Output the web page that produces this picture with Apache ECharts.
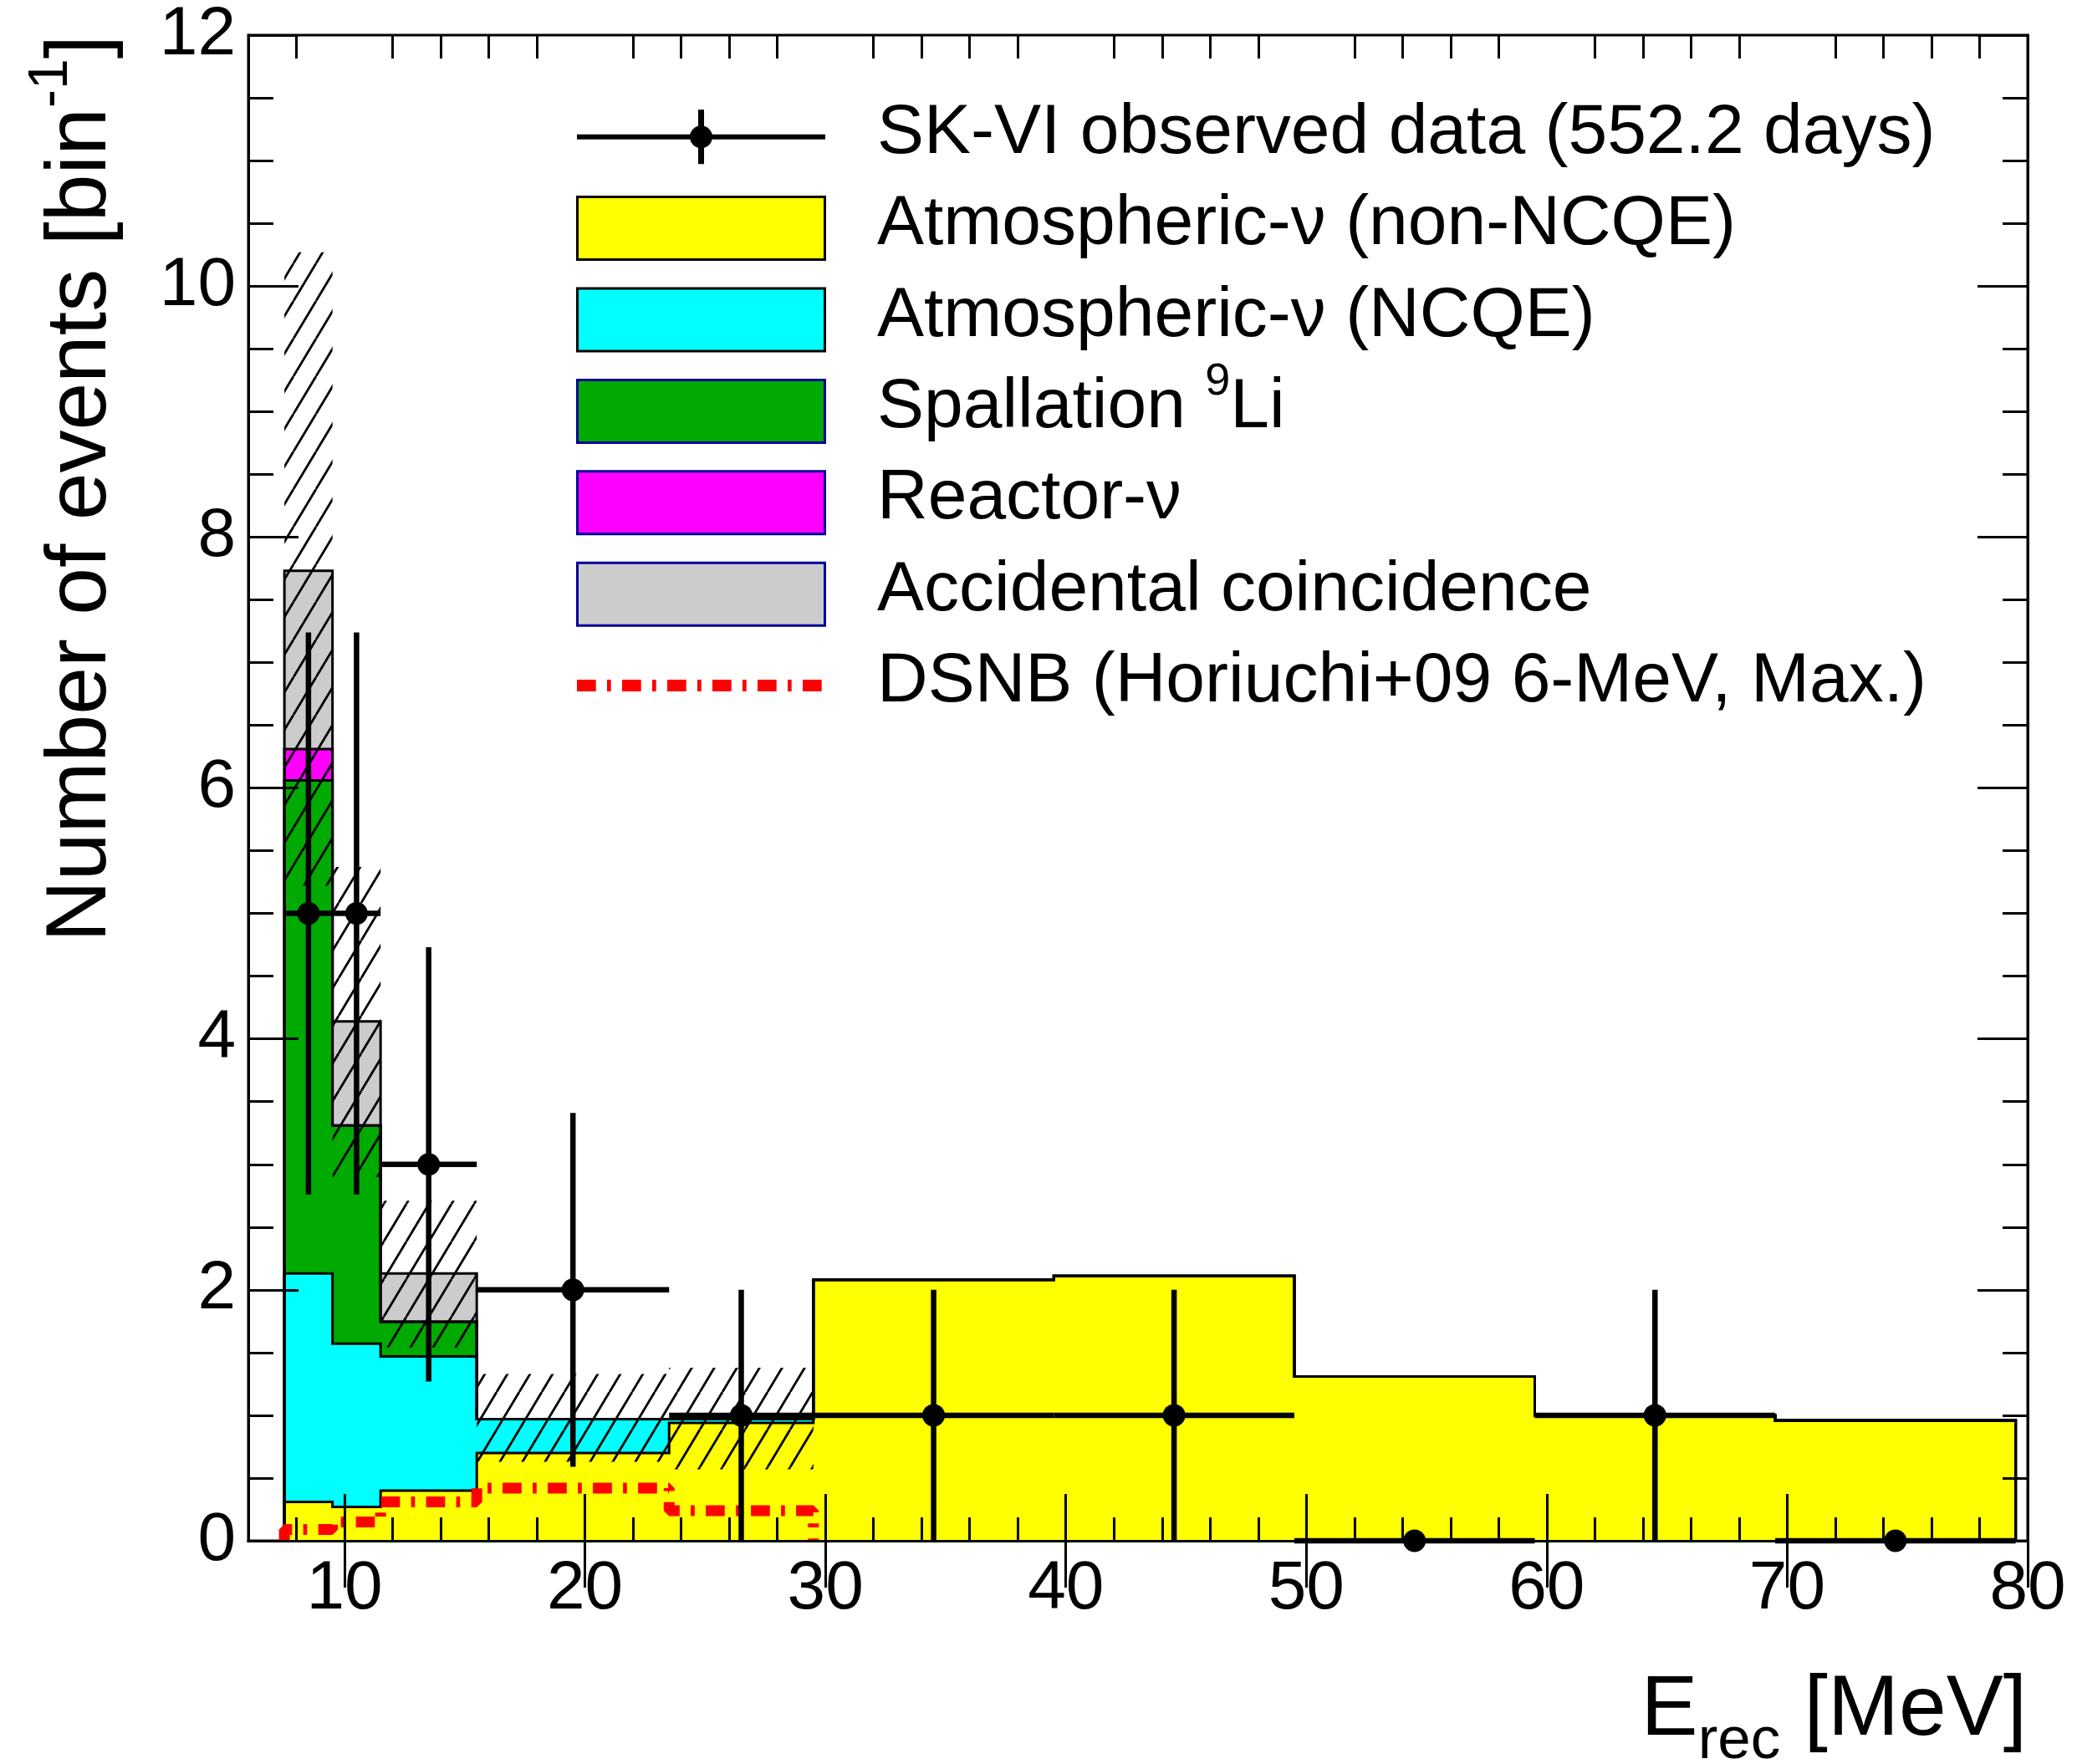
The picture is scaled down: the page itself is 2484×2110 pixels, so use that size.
<!DOCTYPE html>
<html><head><meta charset="utf-8">
<script src="https://cdn.jsdelivr.net/npm/echarts@6/dist/echarts.min.js"></script>
<style>html,body{margin:0;padding:0;background:#fff}#c{width:2484px;height:2110px}</style>
</head><body><div id="c"></div>
<script>
// ---------------- data ----------------
const binEdges      = [7.5, 9.5, 11.5, 15.5, 23.5, 29.5, 39.5, 49.5, 59.5, 69.5, 79.5];
const atmNonNCQE    = [0.31, 0.27, 0.40, 0.70, 0.94, 2.08, 2.11, 1.31, 1.00, 0.96];
const atmNCQE       = [1.82, 1.30, 1.07, 0.27, 0.03, 0, 0, 0, 0, 0];
const spallationLi9 = [3.93, 1.74, 0.275, 0, 0, 0, 0, 0, 0, 0];
const reactorNu     = [0.25, 0, 0, 0, 0, 0, 0, 0, 0, 0];
const accidental    = [1.42, 0.83, 0.385, 0, 0, 0, 0, 0, 0, 0];
const bkgErrLow     = [5.22, 2.90, 1.54, 0.63, 0.57];
const bkgErrHigh    = [10.27, 5.37, 2.71, 1.33, 1.38];
const dsnb          = [0.09, 0.15, 0.31, 0.42, 0.24];
const dataX         = [8.5, 10.5, 13.5, 19.5, 26.5, 34.5, 44.5, 54.5, 64.5, 74.5];
const dataXErr      = [1, 1, 2, 4, 3, 5, 5, 5, 5, 5];
const dataY         = [5, 5, 3, 2, 1, 1, 1, 0, 1, 0];
const dataYErr      = [2.24, 2.24, 1.73, 1.41, 1, 1, 1, 0, 1, 0];
const xMajorTicks   = [10, 20, 30, 40, 50, 60, 70, 80];
const xMinorTicks   = [8, 12, 14, 16, 18, 22, 24, 26, 28, 32, 34, 36, 38, 42, 44, 46, 48,
                       52, 54, 56, 58, 62, 64, 66, 68, 72, 74, 76, 78];
const names = {
  data: 'SK-VI observed data (552.2 days)',
  atmNon: 'Atmospheric-ν (non-NCQE)',
  atmNC: 'Atmospheric-ν (NCQE)',
  li9: 'Spallation ⁹Li',
  reactor: 'Reactor-ν',
  acc: 'Accidental coincidence',
  dsnb: 'DSNB (Horiuchi+09 6-MeV, Max.)'
};

// ---------------- helpers ----------------
const FONT = 'Liberation Sans';
const DASH = [22.7, 13.3, 4.7, 13.3];
function cumulative(list) {
  const out = []; let run = list[0].map(() => 0);
  list.forEach(arr => { run = run.map((v, i) => v + arr[i]); out.push(run.slice()); });
  return out;
}
const cum = cumulative([atmNonNCQE, atmNCQE, spallationLi9, reactorNu, accidental]);
function stepPoints(edges, vals) {
  const pts = [[edges[0], 0]];
  vals.forEach((v, i) => pts.push([edges[i], v]));
  pts.push([edges[vals.length], vals[vals.length - 1]]);
  pts.push([edges[vals.length], 0]);
  return pts;
}
function makeHatch() {
  const w = 27, h = 45;
  const c = document.createElement('canvas'); c.width = w; c.height = h;
  const ctx = c.getContext('2d');
  ctx.strokeStyle = '#000'; ctx.lineWidth = 2.8;
  for (let k = -1; k <= 1; k++) { ctx.beginPath(); ctx.moveTo(k * w, h); ctx.lineTo((k + 1) * w, 0); ctx.stroke(); }
  return c;
}
const hatch = { image: makeHatch(), repeat: 'repeat' };

// ---------------- series ----------------
function layer(name, vals, color) {
  return {
    type: 'line', name: name, step: 'end', data: stepPoints(binEdges, vals), z: 2,
    symbol: 'none', showSymbol: false, silent: true, emphasis: { disabled: true },
    lineStyle: { color: '#000', width: 3, join: 'miter' },
    itemStyle: { color: color },
    areaStyle: { color: color, opacity: 1 }
  };
}
const bandData = bkgErrLow.map((lo, i) => [binEdges[i], binEdges[i + 1], lo, bkgErrHigh[i]]);
const pointData = dataX.map((x, i) => [x, dataY[i], dataXErr[i], dataYErr[i]]);

const series = [
  layer(names.acc, cum[4], '#cccccc'),
  layer(names.reactor, cum[3], '#ff00ff'),
  layer(names.li9, cum[2], '#00aa00'),
  layer(names.atmNC, cum[1], '#00ffff'),
  layer(names.atmNon, cum[0], '#ffff00'),
  {
    type: 'custom', name: 'bkgErr', silent: true, data: bandData, z: 3,
    encode: { x: [0, 1], y: [2, 3] },
    renderItem: function (params, api) {
      const a = api.coord([api.value(0), api.value(2)]);
      const b = api.coord([api.value(1), api.value(3)]);
      return { type: 'rect', shape: { x: a[0], y: b[1], width: b[0] - a[0], height: a[1] - b[1] },
               style: { fill: hatch, stroke: null } };
    }
  },
  {
    type: 'line', name: names.dsnb, step: 'end', z: 4,
    data: stepPoints(binEdges.slice(0, dsnb.length + 1), dsnb),
    symbol: 'none', showSymbol: false, silent: true, emphasis: { disabled: true },
    itemStyle: { color: '#ff0000' },
    lineStyle: { color: '#ff0000', width: 13, type: DASH, cap: 'butt' }
  },
  {
    type: 'custom', name: names.data, silent: true, data: pointData, clip: false, z: 5,
    encode: { x: 0, y: 1 },
    itemStyle: { color: '#000' },
    renderItem: function (params, api) {
      const x = api.value(0), y = api.value(1), xe = api.value(2), ye = api.value(3);
      const c = api.coord([x, y]);
      const l = api.coord([x - xe, y]), r = api.coord([x + xe, y]);
      const ch = [{ type: 'line', shape: { x1: l[0], y1: l[1], x2: r[0], y2: r[1] }, style: { stroke: '#000', lineWidth: 6.5 } }];
      if (ye > 0) {
        const lo = api.coord([x, y - ye]), hi = api.coord([x, y + ye]);
        ch.push({ type: 'line', shape: { x1: lo[0], y1: lo[1], x2: hi[0], y2: hi[1] }, style: { stroke: '#000', lineWidth: 6.5 } });
      }
      ch.push({ type: 'circle', shape: { cx: c[0], cy: c[1], r: 13.5 }, style: { fill: '#000' } });
      return { type: 'group', children: ch };
    }
  }
];

// ---------------- axes ----------------
const axLine = { show: true, lineStyle: { color: '#000', width: 3 } };
const tickStyle = { color: '#000', width: 3 };
const xBase = { type: 'value', min: 6, max: 80, z: 10, splitLine: { show: false }, minorSplitLine: { show: false } };
const xAxis = [
  Object.assign({}, xBase, { position: 'bottom', axisLine: axLine,
    axisTick: { show: true, inside: true, length: 56, customValues: xMajorTicks, lineStyle: tickStyle },
    axisLabel: { show: true, customValues: xMajorTicks, fontSize: 82, color: '#000', fontFamily: FONT, margin: 17 } }),
  Object.assign({}, xBase, { position: 'top', axisLine: axLine,
    axisTick: { show: true, inside: true, length: 56, customValues: xMajorTicks, lineStyle: tickStyle },
    axisLabel: { show: false } }),
  Object.assign({}, xBase, { position: 'bottom', axisLine: { show: false },
    axisTick: { show: true, inside: true, length: 28, customValues: xMinorTicks, lineStyle: tickStyle },
    axisLabel: { show: false } }),
  Object.assign({}, xBase, { position: 'top', axisLine: { show: false },
    axisTick: { show: true, inside: true, length: 28, customValues: xMinorTicks, lineStyle: tickStyle },
    axisLabel: { show: false } })
];
const yBase = { type: 'value', min: 0, max: 12, interval: 2, z: 10, axisLine: axLine,
  splitLine: { show: false }, minorSplitLine: { show: false },
  axisTick: { show: true, inside: true, length: 60, lineStyle: tickStyle },
  minorTick: { show: true, splitNumber: 4, length: 30, lineStyle: tickStyle } };
const yAxis = [
  Object.assign({}, yBase, { position: 'left',
    axisLabel: { show: true, fontSize: 82, color: '#000', fontFamily: FONT, margin: 15 } }),
  Object.assign({}, yBase, { position: 'right', axisLabel: { show: false } })
];

// ---------------- legend (drawn as graphic elements) ----------------
const LEG = { x: 689, y0: 163.7, dy: 109.4, w: 299, h: 78, textX: 1049, textDy: -4 };
const legendEntries = [
  { kind: 'data', text: '{t|' + names.data + '}' },
  { kind: 'box', fill: '#ffff00', border: '#000', text: '{t|' + names.atmNon + '}' },
  { kind: 'box', fill: '#00ffff', border: '#000', text: '{t|' + names.atmNC + '}' },
  { kind: 'box', fill: '#00aa00', border: '#000099', text: '{t|Spallation }{s|9}{t|Li}' },
  { kind: 'box', fill: '#ff00ff', border: '#000099', text: '{t|' + names.reactor + '}' },
  { kind: 'box', fill: '#cccccc', border: '#000099', text: '{t|' + names.acc + '}' },
  { kind: 'dash', text: '{t|' + names.dsnb + '}' }
];
const legendRich = {
  t: { fontSize: 84, lineHeight: 84, fontFamily: FONT, fill: '#000' },
  s: { fontSize: 54, lineHeight: 84, fontFamily: FONT, fill: '#000', padding: [0, 0, 62, 0] }
};
const legendGraphics = [];
legendEntries.forEach((e, k) => {
  const cy = LEG.y0 + k * LEG.dy, cx = LEG.x + LEG.w / 2;
  if (e.kind === 'box') {
    legendGraphics.push({ type: 'rect', silent: true, z: 20,
      shape: { x: LEG.x + 1.5, y: cy - LEG.h / 2 + 1.5, width: LEG.w - 3, height: LEG.h - 3 },
      style: { fill: e.fill, stroke: e.border, lineWidth: 3 } });
  } else if (e.kind === 'data') {
    legendGraphics.push({ type: 'line', silent: true, z: 20, shape: { x1: LEG.x + 1, y1: cy, x2: LEG.x + LEG.w - 1, y2: cy },
      style: { stroke: '#000', lineWidth: 6 } });
    legendGraphics.push({ type: 'line', silent: true, z: 20, shape: { x1: cx, y1: cy - 32.5, x2: cx, y2: cy + 32.5 },
      style: { stroke: '#000', lineWidth: 7 } });
    legendGraphics.push({ type: 'circle', silent: true, z: 20, shape: { cx: cx, cy: cy, r: 13.5 }, style: { fill: '#000' } });
  } else {
    legendGraphics.push({ type: 'line', silent: true, z: 20, shape: { x1: LEG.x + 1, y1: cy, x2: LEG.x + LEG.w - 1, y2: cy },
      style: { stroke: '#ff0000', lineWidth: 14, lineDash: DASH, lineCap: 'butt' } });
  }
  legendGraphics.push({ type: 'text', silent: true, z: 20, x: LEG.textX, y: cy + LEG.textDy,
    style: { text: e.text, rich: legendRich, align: 'left', verticalAlign: 'middle', fill: '#000' } });
});

// ---------------- chart ----------------
const chart = echarts.init(document.getElementById('c'), null, { renderer: 'canvas' });
chart.setOption({
  animation: false,
  backgroundColor: '#fff',
  textStyle: { fontFamily: FONT },
  grid: { left: 297, right: 59, top: 42, bottom: 267, show: true, borderColor: '#000', borderWidth: 3,
          backgroundColor: 'transparent', containLabel: false, outerBoundsMode: 'none' },
  xAxis: xAxis,
  yAxis: yAxis,
  series: series,
  graphic: legendGraphics.concat([
    { type: 'text', x: 98, y: 42, rotation: Math.PI / 2, silent: true,
      style: { text: '{t|Number of events [bin}{s|-1}{t|]}', align: 'right', verticalAlign: 'middle', fill: '#000',
        rich: { t: { fontSize: 102, lineHeight: 102, fontFamily: FONT, fill: '#000' },
                s: { fontSize: 66, lineHeight: 102, fontFamily: FONT, fill: '#000', padding: [0, 0, 72, 0] } } } },
    { type: 'text', x: 2424, y: 2047, silent: true,
      style: { text: '{t|E}{s|rec}{t| [MeV]}', align: 'right', verticalAlign: 'middle', fill: '#000',
        rich: { t: { fontSize: 102, lineHeight: 102, fontFamily: FONT, fill: '#000' },
                s: { fontSize: 71, lineHeight: 102, fontFamily: FONT, fill: '#000', padding: [72, 0, 0, 0] } } } }
  ])
});
</script>
</body></html>
